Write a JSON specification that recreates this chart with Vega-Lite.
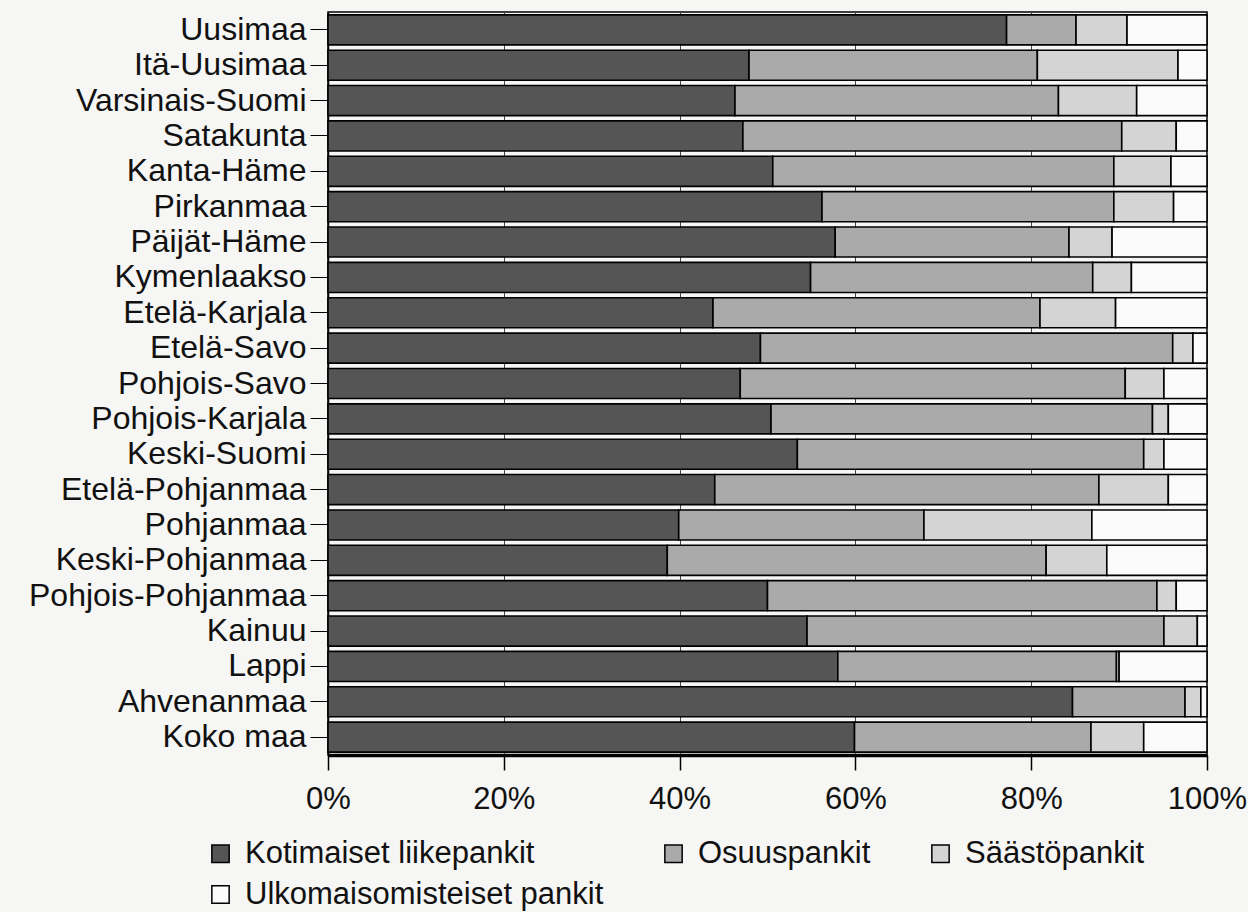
{
  "$schema": "https://vega.github.io/schema/vega-lite/v6.json",
  "autosize": {"type": "none"},
  "padding": {"left": 328, "top": 12, "right": 41, "bottom": 157},
  "width": 879,
  "height": 743,
  "background": "#f6f6f4",
  "config": {
    "view": {"stroke": "#000000", "strokeWidth": 1.5},
    "font": "Liberation Sans"
  },
  "data": {
    "values": [
      {"region": "Uusimaa", "Kotimaiset liikepankit": 77.2, "Osuuspankit": 7.9, "Säästöpankit": 5.8, "Ulkomaisomisteiset pankit": 9.1},
      {"region": "Itä-Uusimaa", "Kotimaiset liikepankit": 47.9, "Osuuspankit": 32.8, "Säästöpankit": 16.0, "Ulkomaisomisteiset pankit": 3.3},
      {"region": "Varsinais-Suomi", "Kotimaiset liikepankit": 46.3, "Osuuspankit": 36.8, "Säästöpankit": 8.9, "Ulkomaisomisteiset pankit": 8.0},
      {"region": "Satakunta", "Kotimaiset liikepankit": 47.2, "Osuuspankit": 43.1, "Säästöpankit": 6.2, "Ulkomaisomisteiset pankit": 3.5},
      {"region": "Kanta-Häme", "Kotimaiset liikepankit": 50.6, "Osuuspankit": 38.8, "Säästöpankit": 6.5, "Ulkomaisomisteiset pankit": 4.1},
      {"region": "Pirkanmaa", "Kotimaiset liikepankit": 56.2, "Osuuspankit": 33.2, "Säästöpankit": 6.8, "Ulkomaisomisteiset pankit": 3.8},
      {"region": "Päijät-Häme", "Kotimaiset liikepankit": 57.7, "Osuuspankit": 26.6, "Säästöpankit": 4.9, "Ulkomaisomisteiset pankit": 10.8},
      {"region": "Kymenlaakso", "Kotimaiset liikepankit": 54.9, "Osuuspankit": 32.1, "Säästöpankit": 4.4, "Ulkomaisomisteiset pankit": 8.6},
      {"region": "Etelä-Karjala", "Kotimaiset liikepankit": 43.8, "Osuuspankit": 37.2, "Säästöpankit": 8.6, "Ulkomaisomisteiset pankit": 10.4},
      {"region": "Etelä-Savo", "Kotimaiset liikepankit": 49.2, "Osuuspankit": 46.9, "Säästöpankit": 2.3, "Ulkomaisomisteiset pankit": 1.6},
      {"region": "Pohjois-Savo", "Kotimaiset liikepankit": 46.9, "Osuuspankit": 43.8, "Säästöpankit": 4.4, "Ulkomaisomisteiset pankit": 4.9},
      {"region": "Pohjois-Karjala", "Kotimaiset liikepankit": 50.4, "Osuuspankit": 43.4, "Säästöpankit": 1.8, "Ulkomaisomisteiset pankit": 4.4},
      {"region": "Keski-Suomi", "Kotimaiset liikepankit": 53.4, "Osuuspankit": 39.4, "Säästöpankit": 2.3, "Ulkomaisomisteiset pankit": 4.9},
      {"region": "Etelä-Pohjanmaa", "Kotimaiset liikepankit": 44.0, "Osuuspankit": 43.7, "Säästöpankit": 7.9, "Ulkomaisomisteiset pankit": 4.4},
      {"region": "Pohjanmaa", "Kotimaiset liikepankit": 39.9, "Osuuspankit": 27.9, "Säästöpankit": 19.1, "Ulkomaisomisteiset pankit": 13.1},
      {"region": "Keski-Pohjanmaa", "Kotimaiset liikepankit": 38.6, "Osuuspankit": 43.1, "Säästöpankit": 6.9, "Ulkomaisomisteiset pankit": 11.4},
      {"region": "Pohjois-Pohjanmaa", "Kotimaiset liikepankit": 50.0, "Osuuspankit": 44.3, "Säästöpankit": 2.2, "Ulkomaisomisteiset pankit": 3.5},
      {"region": "Kainuu", "Kotimaiset liikepankit": 54.5, "Osuuspankit": 40.6, "Säästöpankit": 3.8, "Ulkomaisomisteiset pankit": 1.1},
      {"region": "Lappi", "Kotimaiset liikepankit": 58.0, "Osuuspankit": 31.7, "Säästöpankit": 0.3, "Ulkomaisomisteiset pankit": 10.0},
      {"region": "Ahvenanmaa", "Kotimaiset liikepankit": 84.7, "Osuuspankit": 12.8, "Säästöpankit": 1.8, "Ulkomaisomisteiset pankit": 0.7},
      {"region": "Koko maa", "Kotimaiset liikepankit": 59.9, "Osuuspankit": 26.9, "Säästöpankit": 6.0, "Ulkomaisomisteiset pankit": 7.2}
    ]
  },
  "transform": [
    {"fold": ["Kotimaiset liikepankit", "Osuuspankit", "Säästöpankit", "Ulkomaisomisteiset pankit"], "as": ["pankki", "osuus"]}
  ],
  "mark": {"type": "bar", "stroke": "#000000", "strokeWidth": 1.6},
  "encoding": {
    "y": {
      "field": "region",
      "type": "nominal",
      "sort": null,
      "scale": {"paddingInner": 0.15, "paddingOuter": 0.08},
      "axis": {
        "title": null,
        "labelFontSize": 32,
        "labelColor": "#111111",
        "labelPadding": 4,
        "tickSize": 18,
        "tickColor": "#000000",
        "tickWidth": 1,
        "domainColor": "#000000",
        "domainWidth": 1.5,
        "labelLimit": 400
      }
    },
    "x": {
      "field": "osuus",
      "type": "quantitative",
      "stack": "normalize",
      "scale": {"domain": [0, 1]},
      "axis": {
        "title": null,
        "format": ".0%",
        "values": [0, 0.2, 0.4, 0.6, 0.8, 1],
        "labelFontSize": 31,
        "labelColor": "#111111",
        "labelPadding": 14,
        "tickSize": 15,
        "tickColor": "#000000",
        "tickWidth": 1.5,
        "domainColor": "#000000",
        "domainWidth": 3.5,
        "grid": true,
        "gridColor": "#444444",
        "gridWidth": 1,
        "labelFlush": false
      }
    },
    "color": {
      "field": "pankki",
      "type": "nominal",
      "sort": ["Kotimaiset liikepankit", "Osuuspankit", "Säästöpankit", "Ulkomaisomisteiset pankit"],
      "scale": {
        "domain": ["Kotimaiset liikepankit", "Osuuspankit", "Säästöpankit", "Ulkomaisomisteiset pankit"],
        "range": ["#555555", "#aaaaaa", "#d4d4d4", "#fbfbfb"]
      },
      "legend": {
        "title": null,
        "orient": "none",
        "legendX": -123,
        "legendY": 826,
        "direction": "horizontal",
        "columns": 3,
        "columnPadding": 54,
        "rowPadding": 9,
        "symbolType": "square",
        "symbolSize": 300,
        "symbolStrokeColor": "#000000",
        "symbolStrokeWidth": 1.5,
        "labelFontSize": 31,
        "labelColor": "#111111",
        "labelOffset": 9,
        "labelLimit": 500
      }
    },
    "order": {"field": "pankki", "sort": "ascending"}
  }
}
